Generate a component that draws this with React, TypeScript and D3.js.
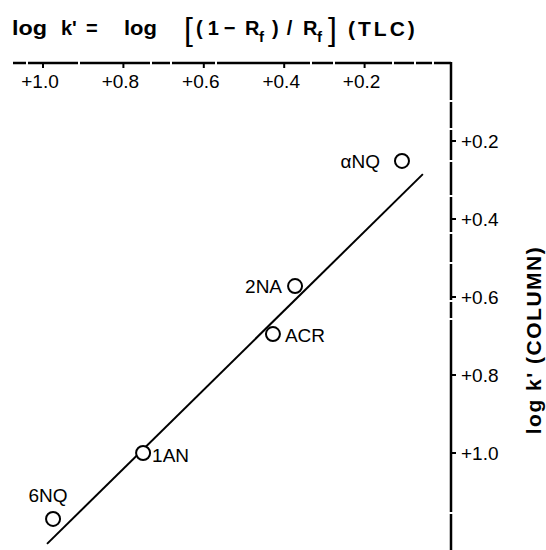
import React from "react";
import * as d3 from "d3";

// ---- data ----
const compounds = ["αNQ", "2NA", "ACR", "1AN", "6NQ"];
const logKTlc = [0.107, 0.373, 0.428, 0.751, 0.975];
const logKColumn = [0.251, 0.572, 0.695, 1.0, 1.169];
// regression line end points (TLC, column)
const fitX = [0.99, 0.055];
const fitY = [1.233, 0.285];
const xTicks = [1.0, 0.8, 0.6, 0.4, 0.2];
const xTickLabels = ["+1.0", "+0.8", "+0.6", "+0.4", "+0.2"];
const yTicks = [0.2, 0.4, 0.6, 0.8, 1.0];
const yTickLabels = ["+0.2", "+0.4", "+0.6", "+0.8", "+1.0"];

// label placement (style only)
const labelPlace = [
  { anchor: "end", dx: -22, dy: 0 },
  { anchor: "end", dx: -13, dy: 0 },
  { anchor: "start", dx: 12, dy: 1 },
  { anchor: "start", dx: 9, dy: 2 },
  { anchor: "middle", dx: -5, dy: -24 },
];

// small breaks in the scanned axis lines (style only)
const topGaps = [26, 78, 150, 170, 215, 310, 333, 392, 414, 432];
const rightGaps = [100, 128, 160, 195, 232, 262, 300, 318, 512];

const W = 546;
const H = 550;
const FONT = "'Liberation Sans', Arial, sans-serif";

function dashFrom(start: number, end: number, gaps: number[], g = 2) {
  const arr: number[] = [];
  let pos = start;
  for (const gp of gaps) {
    arr.push(gp - pos, g);
    pos = gp + g;
  }
  arr.push(end - pos + 10, 0);
  return arr.join(" ");
}

export default function App() {
  const x = d3.scaleLinear().domain([0, 1]).range([445, 43]);
  const y = d3.scaleLinear().domain([0, 1]).range([63, 453]);
  const axisX = 451;
  const axisY = 63;
  const leftX = 13;

  const line = d3
    .line<number>()
    .x((_, i) => x(fitX[i]))
    .y((_, i) => y(fitY[i]));

  return (
    <svg
      width={W}
      height={H}
      style={{ position: "absolute", left: 0, top: 0, background: "#fff" }}
      fontFamily={FONT}
    >
      <rect width={W} height={H} fill="#fff" />
      {/* title top */}
      <g fontWeight="bold" fontSize={20} fill="#000">
        <text x={12} y={35} textLength={35} lengthAdjust="spacingAndGlyphs">log</text>
        <text x={61} y={35}>k'</text>
        <text x={86} y={35}>=</text>
        <text x={124} y={35} textLength={33} lengthAdjust="spacingAndGlyphs">log</text>
        <text x={184} y={40} fontSize={32} fontWeight="normal">[</text>
        <text x={196} y={35} letterSpacing={5}>(1−</text>
        <text x={245} y={35}>R</text>
        <text x={259} y={42} fontSize={15}>f</text>
        <text x={272} y={35} letterSpacing={8}>)/</text>
        <text x={303} y={35}>R</text>
        <text x={317} y={42} fontSize={15}>f</text>
        <text x={328} y={40} fontSize={32} fontWeight="normal">]</text>
        <text x={348} y={36} fontSize={21} letterSpacing={3}>(TLC)</text>
      </g>

      {/* top axis */}
      <line
        x1={leftX}
        x2={axisX}
        y1={axisY}
        y2={axisY}
        stroke="#000"
        strokeWidth={2.5}
        strokeDasharray={dashFrom(leftX, axisX, topGaps)}
      />
      {xTicks.map((t, i) => (
        <g key={"xt" + i}>
          <line x1={x(t)} x2={x(t)} y1={axisY} y2={axisY + 5} stroke="#000" strokeWidth={2} />
          <text x={x(t) - 3} y={88} fontSize={19} textAnchor="middle" fill="#000">
            {xTickLabels[i]}
          </text>
        </g>
      ))}

      {/* right axis */}
      <line
        x1={axisX}
        x2={axisX}
        y1={axisY - 1}
        y2={H}
        stroke="#000"
        strokeWidth={2.5}
        strokeDasharray={dashFrom(axisY - 1, H, rightGaps)}
      />
      {yTicks.map((t, i) => (
        <g key={"yt" + i}>
          <line x1={axisX} x2={axisX + 5} y1={y(t)} y2={y(t)} stroke="#000" strokeWidth={2} />
          <text x={axisX + 10} y={y(t)} dy="0.35em" fontSize={19} fill="#000">
            {yTickLabels[i]}
          </text>
        </g>
      ))}
      <text
        transform={`translate(541,340) rotate(-90)`}
        textAnchor="middle"
        fontWeight="bold"
        fontSize={21}
        letterSpacing={1.5}
        fill="#000"
      >
        log k' (COLUMN)
      </text>

      {/* fit line */}
      <path d={line([0, 1]) || ""} fill="none" stroke="#000" strokeWidth={2} />

      {/* points */}
      {compounds.map((c, i) => {
        const cx = x(logKTlc[i]);
        const cy = y(logKColumn[i]);
        const p = labelPlace[i];
        return (
          <g key={c}>
            <circle cx={cx} cy={cy} r={7} fill="#fff" stroke="#000" strokeWidth={2} />
            <text
              x={cx + p.dx}
              y={cy + p.dy}
              dy="0.35em"
              textAnchor={p.anchor as any}
              fontSize={19}
              fill="#000"
            >
              {c}
            </text>
          </g>
        );
      })}
    </svg>
  );
}
